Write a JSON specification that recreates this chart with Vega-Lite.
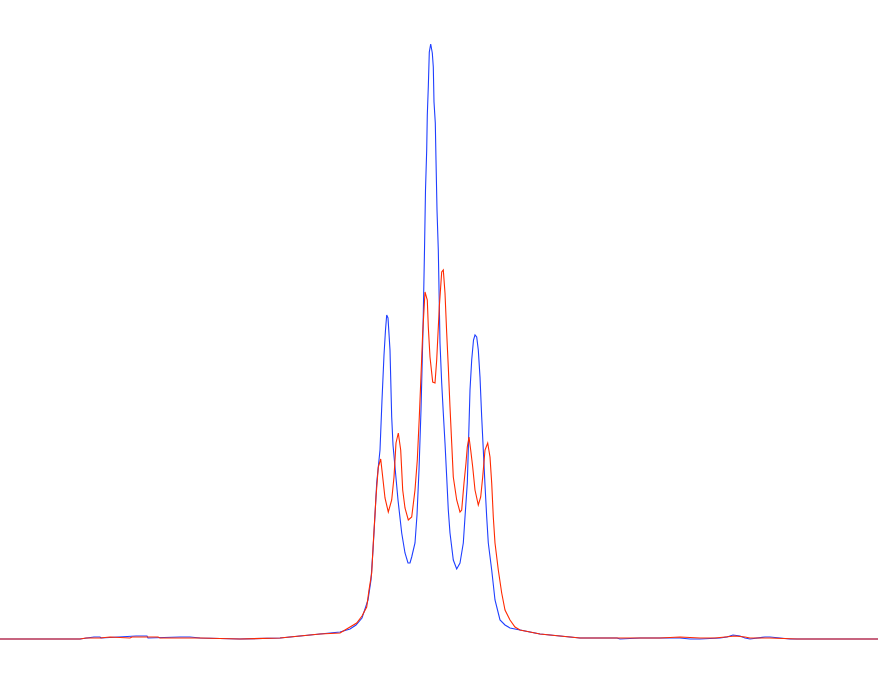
{
  "$schema": "https://vega.github.io/schema/vega-lite/v6.json",
  "width": 878,
  "height": 673,
  "autosize": {"type": "none"},
  "padding": 0,
  "background": "white",
  "config": {"view": {"stroke": null}},
  "datasets": {
    "blue": [
      {"x":0,"y":0},{"x":80,"y":0},{"x":94,"y":2},{"x":100,"y":2},{"x":101,"y":1},{"x":136,"y":3},{"x":147,"y":3},{"x":148,"y":1},{"x":180,"y":2},{"x":190,"y":2},{"x":200,"y":1},{"x":240,"y":0},{"x":280,"y":1},{"x":300,"y":3},{"x":320,"y":5},{"x":340,"y":7},{"x":350,"y":10},{"x":356,"y":14},{"x":362,"y":21},{"x":366,"y":33},{"x":368,"y":39},{"x":371,"y":59},{"x":373,"y":89},{"x":375,"y":124},{"x":376.7,"y":156},{"x":378.5,"y":174},{"x":380,"y":189},{"x":382,"y":239},{"x":384,"y":284},{"x":385.5,"y":309},{"x":386.7,"y":324},{"x":388,"y":321},{"x":390,"y":289},{"x":391.7,"y":222},{"x":393,"y":194},{"x":395,"y":172},{"x":398,"y":139},{"x":401.7,"y":106},{"x":405,"y":86},{"x":408,"y":76},{"x":410,"y":76},{"x":411.7,"y":82},{"x":415,"y":96},{"x":417,"y":124},{"x":419,"y":169},{"x":421,"y":229},{"x":423,"y":309},{"x":424.5,"y":389},{"x":425.5,"y":449},{"x":426.7,"y":489},{"x":427.3,"y":524},{"x":428.3,"y":552},{"x":429.3,"y":587},{"x":430.7,"y":595},{"x":432.3,"y":586},{"x":433.3,"y":572},{"x":434,"y":537},{"x":435.3,"y":516},{"x":436,"y":479},{"x":437,"y":429},{"x":438.3,"y":389},{"x":440,"y":296},{"x":441.7,"y":256},{"x":443.3,"y":226},{"x":445,"y":196},{"x":446.7,"y":162},{"x":448.3,"y":129},{"x":450,"y":106},{"x":453.3,"y":79},{"x":456.7,"y":70},{"x":460,"y":76},{"x":463.3,"y":96},{"x":465,"y":122},{"x":467.3,"y":156},{"x":468.3,"y":189},{"x":470,"y":249},{"x":471.7,"y":279},{"x":473.5,"y":299},{"x":475,"y":304},{"x":476.7,"y":302},{"x":478.3,"y":289},{"x":480,"y":262},{"x":481.7,"y":222},{"x":483.3,"y":189},{"x":485,"y":154},{"x":486.7,"y":122},{"x":488.3,"y":96},{"x":491.7,"y":69},{"x":495,"y":39},{"x":500,"y":19},{"x":505,"y":14},{"x":510,"y":11},{"x":520,"y":9},{"x":540,"y":5},{"x":560,"y":3},{"x":580,"y":1},{"x":617,"y":1},{"x":620,"y":0},{"x":640,"y":1},{"x":660,"y":1},{"x":680,"y":1},{"x":690,"y":0},{"x":700,"y":0},{"x":720,"y":1},{"x":727,"y":2},{"x":733,"y":4},{"x":740,"y":3},{"x":745,"y":1},{"x":750,"y":0},{"x":765,"y":2},{"x":770,"y":2},{"x":790,"y":0},{"x":878,"y":0}
    ],
    "red": [
      {"x":0,"y":0},{"x":80,"y":0},{"x":86,"y":1},{"x":100,"y":1},{"x":110,"y":2},{"x":130,"y":1},{"x":132,"y":2},{"x":158,"y":2},{"x":160,"y":1},{"x":200,"y":1},{"x":240,"y":0},{"x":280,"y":1},{"x":300,"y":3},{"x":320,"y":5},{"x":340,"y":6},{"x":356.7,"y":16},{"x":362,"y":23},{"x":366.7,"y":32},{"x":369,"y":49},{"x":371.7,"y":66},{"x":373.3,"y":96},{"x":376,"y":142},{"x":378.3,"y":172},{"x":380.7,"y":180},{"x":382.7,"y":162},{"x":385,"y":141},{"x":388.3,"y":127},{"x":391.7,"y":139},{"x":394,"y":162},{"x":396,"y":196},{"x":398.3,"y":206},{"x":400.7,"y":189},{"x":402.7,"y":149},{"x":405,"y":131},{"x":408.3,"y":119},{"x":411.7,"y":122},{"x":415,"y":149},{"x":417.3,"y":179},{"x":419.3,"y":222},{"x":420.7,"y":256},{"x":422.7,"y":306},{"x":425,"y":347},{"x":427.3,"y":339},{"x":428.3,"y":312},{"x":430,"y":282},{"x":432.7,"y":257},{"x":435,"y":256},{"x":436.7,"y":279},{"x":439.3,"y":332},{"x":441.7,"y":367},{"x":443.3,"y":369},{"x":445,"y":346},{"x":446.7,"y":306},{"x":448.3,"y":272},{"x":450,"y":232},{"x":451.7,"y":196},{"x":453.3,"y":162},{"x":456.7,"y":139},{"x":460,"y":127},{"x":461.7,"y":129},{"x":464,"y":156},{"x":466,"y":176},{"x":467.3,"y":192},{"x":469,"y":202},{"x":470.7,"y":189},{"x":472.7,"y":172},{"x":475,"y":149},{"x":478.3,"y":134},{"x":480.7,"y":142},{"x":482.7,"y":162},{"x":485,"y":189},{"x":487.7,"y":196},{"x":490,"y":182},{"x":491.7,"y":156},{"x":493.3,"y":122},{"x":495,"y":96},{"x":498.3,"y":69},{"x":501.7,"y":46},{"x":505,"y":29},{"x":510,"y":19},{"x":515,"y":12},{"x":520,"y":9},{"x":540,"y":5},{"x":560,"y":3},{"x":580,"y":1},{"x":660,"y":1},{"x":680,"y":2},{"x":700,"y":1},{"x":715,"y":1},{"x":725,"y":2},{"x":735,"y":3},{"x":745,"y":2},{"x":750,"y":1},{"x":770,"y":1},{"x":797,"y":0},{"x":878,"y":0}
    ]
  },
  "layer": [
    {
      "data": {"name": "blue"},
      "mark": {"type": "line", "color": "#1f3fff", "strokeWidth": 1.1, "interpolate": "linear"},
      "encoding": {
        "x": {"field": "x", "type": "quantitative", "scale": {"domain": [0, 878], "nice": false, "zero": false}, "axis": null},
        "y": {"field": "y", "type": "quantitative", "scale": {"domain": [-34, 639], "nice": false, "zero": false}, "axis": null}
      }
    },
    {
      "data": {"name": "red"},
      "mark": {"type": "line", "color": "#ff2a00", "strokeWidth": 1.1, "interpolate": "linear"},
      "encoding": {
        "x": {"field": "x", "type": "quantitative", "scale": {"domain": [0, 878], "nice": false, "zero": false}, "axis": null},
        "y": {"field": "y", "type": "quantitative", "scale": {"domain": [-34, 639], "nice": false, "zero": false}, "axis": null}
      }
    }
  ]
}
